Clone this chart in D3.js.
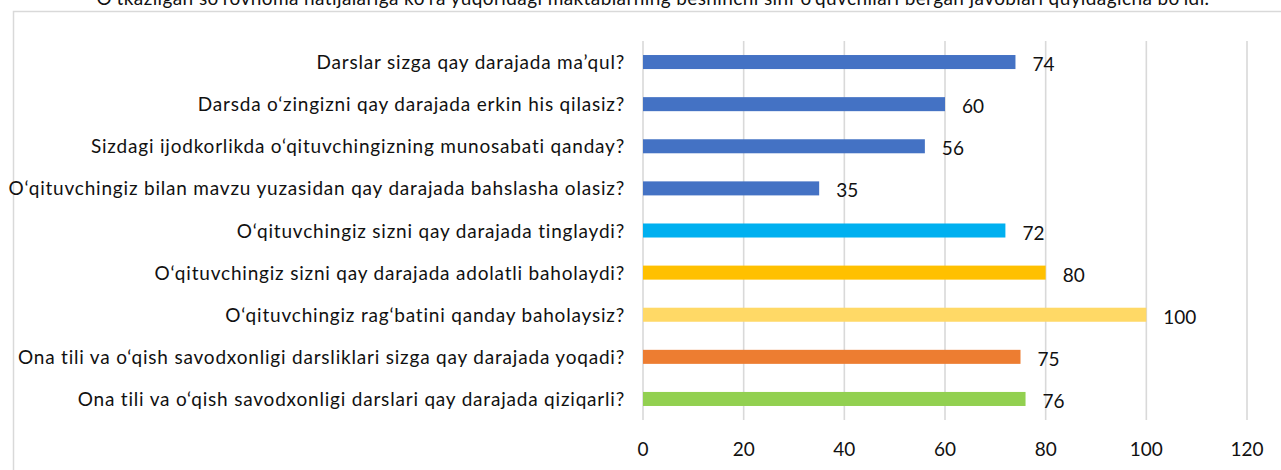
<!DOCTYPE html>
<html>
<head>
<meta charset="utf-8">
<script src="https://cdn.jsdelivr.net/npm/d3@7"></script>
<style>
  body { margin: 0; background: #fff; }
  text { font-family: Lato, "Noto Sans", sans-serif; fill: #111; }
</style>
</head>
<body>
<div id="chart"></div>
<script>
var width = 1281;
var height = 470;

var title = "O\u2018tkazilgan so\u2018rovnoma natijalariga ko\u2018ra yuqoridagi maktablarning beshinchi sinf o\u2018quvchilari bergan javoblari quyidagicha bo\u2018ldi.";

var questions = [
  "Darslar sizga qay darajada ma\u2019qul?",
  "Darsda o\u2018zingizni qay darajada erkin his qilasiz?",
  "Sizdagi ijodkorlikda o\u2018qituvchingizning munosabati qanday?",
  "O\u2018qituvchingiz bilan mavzu yuzasidan qay darajada bahslasha olasiz?",
  "O\u2018qituvchingiz sizni qay darajada tinglaydi?",
  "O\u2018qituvchingiz sizni qay darajada adolatli baholaydi?",
  "O\u2018qituvchingiz rag\u2018batini qanday baholaysiz?",
  "Ona tili va o\u2018qish savodxonligi darsliklari sizga qay darajada yoqadi?",
  "Ona tili va o\u2018qish savodxonligi darslari qay darajada qiziqarli?"
];
var values = [74, 60, 56, 35, 72, 80, 100, 75, 76];
var colors = ["#4472C4", "#4472C4", "#4472C4", "#4472C4", "#00B0F0", "#FFC000", "#FFD966", "#ED7D31", "#92D050"];
var ticks = [0, 20, 40, 60, 80, 100, 120];

var svg = d3
  .select("#chart")
  .append("svg")
  .attr("width", width)
  .attr("height", height);

svg.append("rect")
  .attr("width", width)
  .attr("height", height)
  .attr("fill", "#fff");

// page text above the chart, cut off at the top like in the source
svg.append("text")
  .attr("x", 653)
  .attr("y", 5)
  .attr("text-anchor", "middle")
  .style("font-size", "19px")
  .style("letter-spacing", "0.4px")
  .text(title);

// chart frame, runs off the right and bottom edges
svg.append("rect")
  .attr("x", 13.5)
  .attr("y", 11.5)
  .attr("width", 1400)
  .attr("height", 600)
  .attr("fill", "none")
  .attr("stroke", "#d9d9d9")
  .attr("stroke-width", 1.5);

var x = d3.scaleLinear().domain([0, 120]).range([643, 1247]);

var y = d3
  .scaleBand()
  .domain(questions)
  .range([41, 420])
  .paddingInner(0.667)
  .paddingOuter(0.333);

// vertical gridlines
svg.append("g")
  .selectAll("line")
  .data(ticks)
  .enter()
  .append("line")
  .attr("x1", function(d) { return x(d); })
  .attr("x2", function(d) { return x(d); })
  .attr("y1", 41)
  .attr("y2", 420)
  .attr("stroke", "#d9d9d9")
  .attr("stroke-width", 1.6);

// tick labels
svg.append("g")
  .selectAll("text")
  .data(ticks)
  .enter()
  .append("text")
  .attr("x", function(d) { return x(d); })
  .attr("y", 456)
  .attr("text-anchor", "middle")
  .style("font-size", "19px")
  .text(function(d) { return d; });

var row = svg
  .append("g")
  .selectAll("g")
  .data(questions)
  .enter()
  .append("g");

row.append("rect")
  .attr("x", x(0))
  .attr("y", function(d) { return y(d); })
  .attr("width", function(d, i) { return x(values[i]) - x(0); })
  .attr("height", y.bandwidth())
  .attr("fill", function(d, i) { return colors[i]; });

// category labels
row.append("text")
  .attr("x", x(0) - 18)
  .attr("y", function(d) { return y(d) + y.bandwidth() / 2 + 7; })
  .attr("text-anchor", "end")
  .style("font-size", "19px")
  .style("letter-spacing", "0.8px")
  .text(function(d) { return d; });

// value labels
row.append("text")
  .attr("x", function(d, i) { return x(values[i]) + 17; })
  .attr("y", function(d) { return y(d) + y.bandwidth() / 2 + 9; })
  .style("font-size", "19px")
  .text(function(d, i) { return values[i]; });
</script>
</body>
</html>
